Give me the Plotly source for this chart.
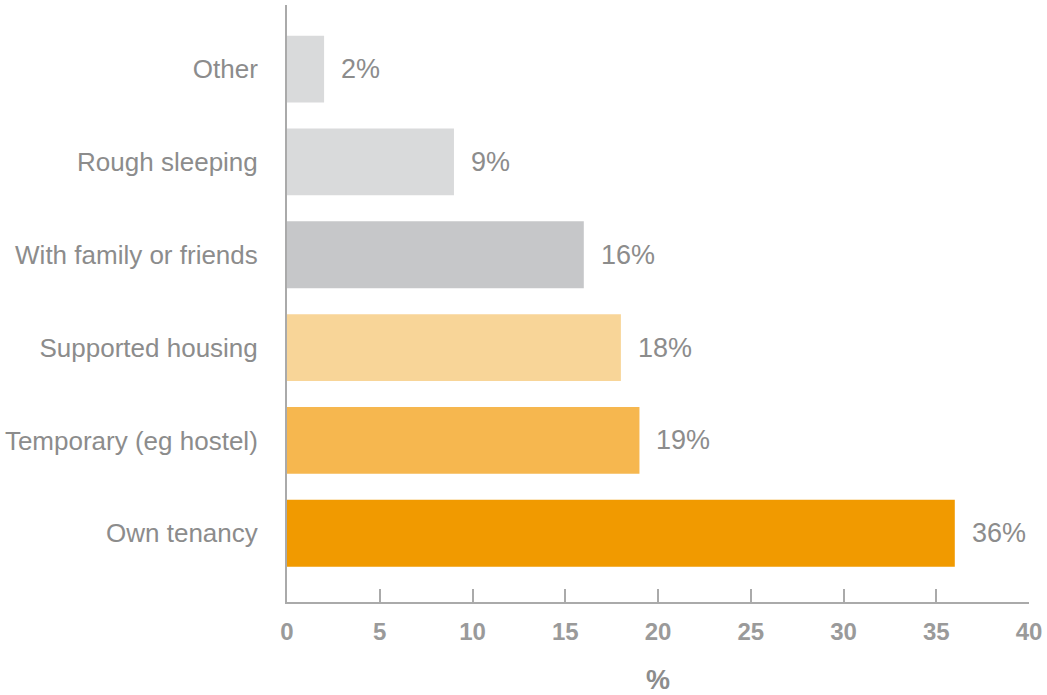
import plotly.graph_objects as go

categories = ["Own tenancy", "Temporary (eg hostel)", "Supported housing",
              "With family or friends", "Rough sleeping", "Other"]
values = [36, 19, 18, 16, 9, 2]
labels = ["36%", "19%", "18%", "16%", "9%", "2%"]
colors = ["#f19a00", "#f6b74f", "#f8d598", "#c6c7c9", "#d9dadb", "#d9dadb"]
x_ticks = [0, 5, 10, 15, 20, 25, 30, 35, 40]

FONT = "Liberation Sans, Arial, sans-serif"
GREY = "#8c8c8c"

fig = go.Figure(go.Bar(
    x=values, y=categories, orientation="h",
    marker=dict(color=colors, line=dict(width=0)),
    hoverinfo="skip",
))

for v, c, t in zip(values, categories, labels):
    fig.add_annotation(x=v, y=c, text=t, showarrow=False, xanchor="left",
                       xshift=15, font=dict(family=FONT, size=27, color=GREY))

fig.update_layout(
    width=1047, height=695,
    margin=dict(l=286, r=16, t=5, b=92),
    plot_bgcolor="white", paper_bgcolor="white",
    bargap=0.28, showlegend=False,
    xaxis=dict(range=[0, 40], tickvals=x_ticks, ticks="inside", ticklen=13,
               tickcolor="#aaaaaa", tickwidth=2, showgrid=False, zeroline=False,
               showline=True, linecolor="#aaaaaa", linewidth=2, ticklabelstandoff=7,
               tickfont=dict(family=FONT, size=24, color="#9a9a9a", weight="bold"),
               title=dict(text="%", font=dict(family=FONT, size=27, color=GREY, weight="bold"),
                          standoff=26)),
    yaxis=dict(range=[-0.74, 5.69], showgrid=False, zeroline=False, showline=True,
               linecolor="#aaaaaa", linewidth=2, ticks="", ticklabelstandoff=22,
               tickfont=dict(family=FONT, size=26, color=GREY)),
)

fig.write_html("out.html")
